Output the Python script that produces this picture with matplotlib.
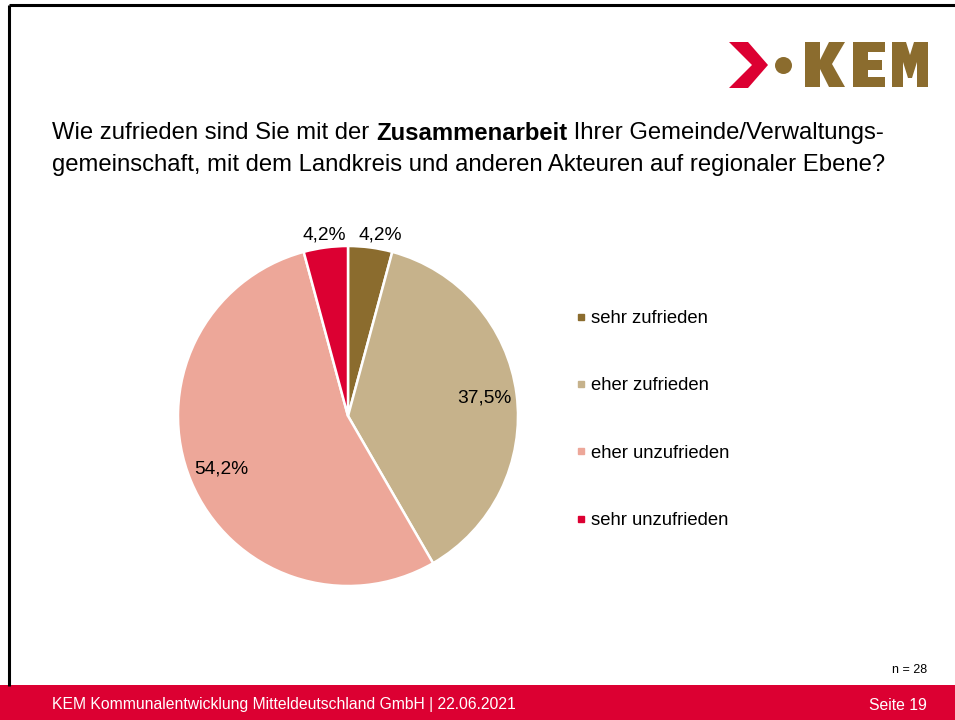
import numpy as np
import matplotlib.pyplot as plt
from matplotlib.patches import Polygon, Rectangle, Circle
from matplotlib.lines import Line2D

plt.rcParams['font.family'] = ['Liberation Sans', 'DejaVu Sans']

# survey answers (share of respondents, %)
categories = ['sehr zufrieden', 'eher zufrieden', 'eher unzufrieden', 'sehr unzufrieden']
shares = [4.2, 37.5, 54.2, 4.2]
colors = ['#8B6C2E', '#C6B28B', '#EDA799', '#DC0032']
n_total = 28

W, H = 955, 720
fig = plt.figure(figsize=(W / 100, H / 100), dpi=100)

# full-size overlay in pixel units for frame, footer band and logo
bg = fig.add_axes([0, 0, 1, 1])
bg.set_xlim(0, W)
bg.set_ylim(H, 0)
bg.axis('off')
bg.plot([9, W], [5, 5], color='black', lw=2.2, solid_capstyle='butt')
bg.plot([9, 9], [5, 686], color='black', lw=2.2, solid_capstyle='butt')
bg.add_patch(Rectangle((0, 685), W, 35, color='#DC0032', lw=0))

# KEM logo
gold = '#8B6C2E'
bg.add_patch(Polygon([(729, 42), (748, 42), (768, 65), (748, 88), (729, 88), (752, 65)],
                     closed=True, color='#DC0032', lw=0))
bg.add_patch(Circle((783.5, 65.5), 8.5, color=gold, lw=0))
bg.add_patch(Polygon([(805, 42), (820, 42), (820, 60), (829, 42), (845, 42), (832, 64),
                      (845, 87), (829, 87), (820, 69), (820, 87), (805, 87)],
                     closed=True, color=gold, lw=0))
bg.add_patch(Polygon([(853, 42), (885, 42), (885, 52), (868, 52), (868, 60), (882, 60),
                      (882, 70), (868, 70), (868, 77), (885, 77), (885, 87), (853, 87)],
                     closed=True, color=gold, lw=0))
bg.add_patch(Polygon([(892, 87), (892, 42), (906, 42), (910, 55), (914, 42), (928, 42),
                      (928, 87), (917, 87), (917, 62), (912, 78), (908, 78), (903, 62),
                      (903, 87)], closed=True, color=gold, lw=0))

# title with one bold word
fs_title = 17.2
renderer = fig.canvas.get_renderer()
x0 = 52 / W
y1 = 1 - 133 / H
parts = [('Wie zufrieden sind Sie mit der ', 'normal'), ('Zusammenarbeit', 'bold'),
         (' Ihrer Gemeinde/Verwaltungs-', 'normal')]
x = x0
for s, w in parts:
    t = fig.text(x, y1, s, fontsize=fs_title, fontweight=w, va='center', ha='left')
    bb = t.get_window_extent(renderer)
    x += bb.width / W
fig.text(x0, 1 - 165 / H,
         'gemeinschaft, mit dem Landkreis und anderen Akteuren auf regionaler Ebene?',
         fontsize=fs_title, va='center', ha='left')

# pie
cx, cy, r = 348, 416, 170
ax = fig.add_axes([(cx - r) / W, (H - cy - r) / H, 2 * r / W, 2 * r / H])
wedges, _ = ax.pie(shares, colors=colors, startangle=90, counterclock=False, radius=1,
                   wedgeprops=dict(edgecolor='white', linewidth=1.8))
ax.set_xlim(-1, 1)
ax.set_ylim(-1, 1)
ax.set_aspect('equal')

for wdg, v in zip(wedges, shares):
    mid = np.deg2rad((wdg.theta1 + wdg.theta2) / 2)
    dist = 0.81 if v > 10 else 1.075
    dx = 0
    if v < 10 and np.cos(mid) > 0:
        dx = 0.05
    ax.text(dist * np.cos(mid) + dx, dist * np.sin(mid),
            f'{v:.1f}'.replace('.', ',') + '%', ha='center', va='center',
            fontsize=13.8, clip_on=False)

# legend
handles = [Line2D([], [], marker='s', ls='', markersize=5, color=c) for c in colors]
fig.legend(handles, categories, loc='upper left', bbox_to_anchor=(567 / W, 1 - 301 / H),
           frameon=False, fontsize=13.3, handlelength=0.5, handletextpad=0.3,
           labelspacing=2.72, borderpad=0)

fig.text(927 / W, 1 - 670 / H, f'n = {n_total}', fontsize=9, ha='right', va='center')
fig.text(52 / W, 1 - 705 / H, 'KEM Kommunalentwicklung Mitteldeutschland GmbH | 22.06.2021',
         fontsize=11.3, color='white', ha='left', va='center')
fig.text(927 / W, 1 - 705 / H, 'Seite 19', fontsize=11.3, color='white', ha='right',
         va='center')

fig.savefig('out.png', dpi=100)
